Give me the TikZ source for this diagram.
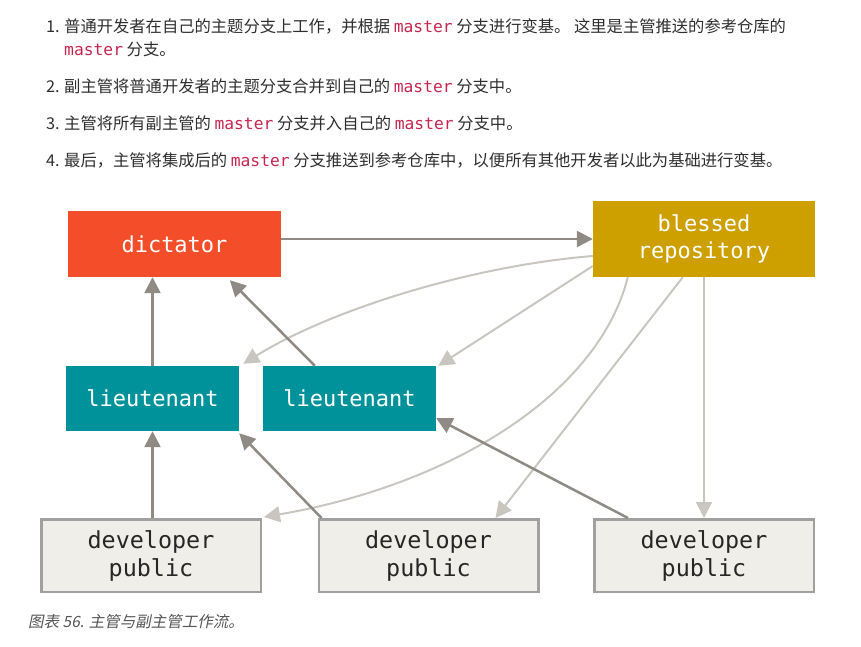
\documentclass[tikz,border=0pt]{standalone}
\usepackage{fontspec}
\setmainfont{Noto Sans CJK SC}
\setmonofont{DejaVu Sans Mono}
\newfontfamily\capfont[FakeSlant=0.2]{Noto Sans CJK SC}
\usetikzlibrary{arrows.meta}

\definecolor{dictred}{HTML}{F34E29}
\definecolor{blessgold}{HTML}{CDA000}
\definecolor{ltteal}{HTML}{00929A}
\definecolor{devfill}{HTML}{EFEEE8}
\definecolor{devborder}{HTML}{A0A0A0}
\definecolor{arrowdark}{HTML}{8F8A84}
\definecolor{arrowlight}{HTML}{C9C6C0}
\definecolor{codered}{HTML}{C7254E}
\definecolor{textgray}{HTML}{2E2E2E}
\definecolor{capgray}{HTML}{555555}

\newcommand\branchname[1]{{\ttfamily\color{codered}#1}}

\begin{document}
\begin{tikzpicture}[x=1pt,y=-1pt,
  box/.style={inner sep=0pt, align=center, text=white, font=\fontsize{22}{27}\selectfont\ttfamily},
  dictbox/.style={box, fill=dictred, minimum width=213pt, minimum height=66pt},
  blessbox/.style={box, fill=blessgold, minimum width=222pt, minimum height=76pt},
  ltbox/.style={box, fill=ltteal, minimum width=173pt, minimum height=65pt},
  devbox/.style={box, text={black!85}, fill=devfill, draw=devborder, line width=2.5pt, minimum width=219.5pt, minimum height=72.5pt, font=\fontsize{23.4}{28}\selectfont\ttfamily},
  listtext/.style={anchor=base west, inner sep=0pt, text=textgray, font=\fontsize{16.3}{23}\selectfont},
  num/.style={listtext},
  caption/.style={anchor=base west, inner sep=0pt, text=capgray, font=\fontsize{15.5}{20}\selectfont\capfont},
  darkarrow/.style={draw=arrowdark, line width=2.5pt, -{Triangle[length=16pt,width=16pt]}},
  lightarrow/.style={draw=arrowlight, line width=2pt, -{Triangle[length=16pt,width=16pt]}}]
\useasboundingbox (0,0) rectangle (861,647);

\node[num] (n1) at (46,33) {1.};
\node[listtext] (t1a) at (64,33) {普通开发者在自己的主题分支上工作，并根据 \branchname{master} 分支进行变基。 这里是主管推送的参考仓库的};
\node[listtext] (t1b) at (64,56) {\branchname{master} 分支。};
\node[num] (n2) at (46,93) {2.};
\node[listtext] (t2) at (64,93) {副主管将普通开发者的主题分支合并到自己的 \branchname{master} 分支中。};
\node[num] (n3) at (46,130) {3.};
\node[listtext] (t3) at (64,130) {主管将所有副主管的 \branchname{master} 分支并入自己的 \branchname{master} 分支中。};
\node[num] (n4) at (46,167) {4.};
\node[listtext] (t4) at (64,167) {最后，主管将集成后的 \branchname{master} 分支推送到参考仓库中，以便所有其他开发者以此为基础进行变基。};

\node[dictbox] (dict) at (174.5,244) {dictator};
\node[blessbox] (bless) at (704,239) {blessed\\repository};
\node[ltbox] (lt1) at (152.5,398.5) {lieutenant};
\node[ltbox] (lt2) at (349.5,398.5) {lieutenant};
\node[devbox] (dev1) at (151,555.5) {developer\\public};
\node[devbox] (dev2) at (428.5,555.5) {developer\\public};
\node[devbox] (dev3) at (704,555.5) {developer\\public};

% pulls from blessed repository
\draw[lightarrow] ([yshift=-17pt]bless.west) .. controls (470,266) and (330,310) .. ([xshift=4pt,yshift=2pt]lt1.north east);
\draw[lightarrow] ([yshift=-27pt]bless.west) -- ([xshift=2pt]lt2.north east);
\draw[lightarrow] ([xshift=35pt]bless.south west) .. controls (598,395) and (450,485) .. ([xshift=2pt,yshift=1pt]dev1.north east);
\draw[lightarrow] ([xshift=90pt]bless.south west) -- ([xshift=-44pt]dev2.north east);
\draw[lightarrow] (bless.south) -- (dev3.north);

% merges upwards
\draw[darkarrow] (dict.east |- bless.west) -- (bless.west);
\draw[darkarrow] (lt1.north) -- (lt1.north |- dict.south);
\draw[darkarrow] ([xshift=52pt]lt2.north west) -- ([xshift=162pt,yshift=-3pt]dict.south west);
\draw[darkarrow] (lt1.south |- dev1.north) -- (lt1.south);
\draw[darkarrow] ([xshift=4pt]dev2.north west) -- ([yshift=-2pt]lt1.south east);
\draw[darkarrow] ([xshift=35pt]dev3.north west) -- ([yshift=13pt]lt2.south east);

\node[caption] (cap) at (28,627) {图表 56. 主管与副主管工作流。};
\end{tikzpicture}
\end{document}
